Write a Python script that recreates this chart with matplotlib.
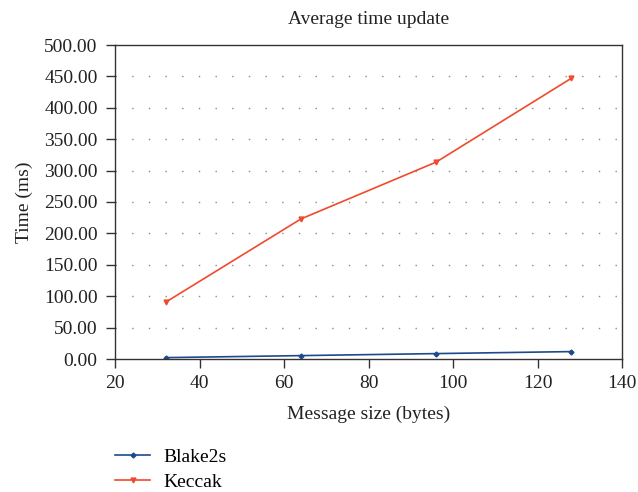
import matplotlib
matplotlib.use("Agg")
import matplotlib.pyplot as plt
from matplotlib.ticker import FormatStrFormatter, MultipleLocator

plt.rcParams['font.family'] = ['Liberation Serif', 'DejaVu Serif']

message_size = [32, 64, 96, 128]
blake2s = [2.2, 5.4, 8.6, 11.8]
keccak = [90.5, 223.0, 313.5, 447.0]

fig = plt.figure(figsize=(6.38, 4.92), dpi=100)
ax = fig.add_axes([115/638, 1-359/492, (622-115)/638, (359-45)/492])

ax.plot(message_size, blake2s, color='#1d4a8a', marker='D', markersize=2.5,
        linewidth=1.2, label='Blake2s')
ax.plot(message_size, keccak, color='#f04a2c', marker='v', markersize=3.5,
        linewidth=1.2, label='Keccak')

ax.set_xlim(20, 140)
ax.set_ylim(0, 500)
ax.xaxis.set_major_locator(MultipleLocator(20))
ax.yaxis.set_major_locator(MultipleLocator(50))
ax.yaxis.set_major_formatter(FormatStrFormatter('%.2f'))

for y in range(50, 500, 50):
    ax.axhline(y, color='#8a8a8a', linewidth=1.0, linestyle=(0, (1, 11)), zorder=0)

for s in ax.spines.values():
    s.set_color('#333333')
    s.set_linewidth(1.0)
ax.tick_params(axis='both', direction='out', length=6.5, width=1.0,
               color='#333333', labelsize=14, labelcolor='#222222')
ax.tick_params(axis='y', pad=6)
ax.tick_params(axis='x', pad=5)

ax.set_title('Average time update', fontsize=14, color='#222222', pad=15)
ax.set_xlabel('Message size (bytes)', fontsize=14, color='#222222', labelpad=10)
ax.set_ylabel('Time (ms)', fontsize=14, color='#222222', labelpad=8)

ax.legend(loc='upper left', bbox_to_anchor=(-0.034, -0.228), frameon=False,
          fontsize=14, handlelength=1.8, labelspacing=0.4, handletextpad=0.7)

fig.savefig('out.png', dpi=100)
